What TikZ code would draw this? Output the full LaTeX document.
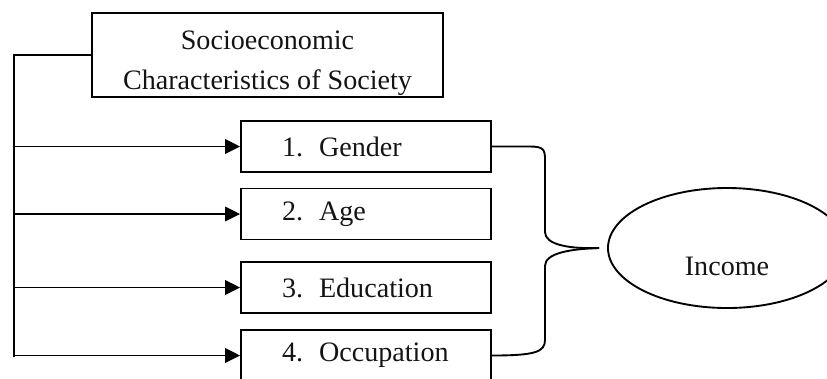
\documentclass[tikz,border=0pt]{standalone}
\usepackage{fontspec}
\setmainfont{Liberation Serif}
\usepackage{tikz}
\usetikzlibrary{
  shapes.geometric,
  arrows.meta,
  positioning,
  calc
}
\definecolor{linecolor}{RGB}{0, 0, 0}
\definecolor{labelcolor}{RGB}{20, 20, 20}
\tikzset{
blocktext/.style={
  font=\fontsize{12}{15.5}\selectfont,
  text=labelcolor
},
arrow/.style={
  -{Triangle[length=6.4pt,width=6.2pt]},
  line width=0.8pt,
  draw=linecolor
}
}
\newcommand{\itemno}[1]{\makebox[15.8pt][l]{#1}}

\begin{document}
\begin{tikzpicture}[
    x=0.015cm, y=-0.015cm,
    headbox/.style={
      rectangle, draw=linecolor, line width=0.8pt,
      minimum width=5.265cm, minimum height=1.26cm,
      align=center, inner sep=0pt, blocktext,
      font=\fontsize{12}{17}\selectfont
    },
    factorbox/.style={
      rectangle, draw=linecolor, line width=0.8pt,
      minimum width=3.75cm, minimum height=0.765cm,
      text width=2.52cm, inner xsep=0.615cm, inner ysep=0pt,
      align=left, blocktext
    },
    incomeshape/.style={
      ellipse, draw=linecolor, line width=0.8pt,
      minimum width=3.57cm, minimum height=1.8cm, inner sep=0pt
    },
    bracket/.style={
      line width=0.8pt, draw=linecolor
    }
  ]
    \useasboundingbox (0,0) rectangle (827,378);
    \clip (0,0) rectangle (827,378);

    % Heading
    \node[headbox] (socio) at (267.5,55) {\rule{0pt}{15pt}Socioeconomic\\Characteristics of Society};

    % Characteristics
    \node[factorbox] (gender) at (366,146.5) {\itemno{1.}Gender};
    \node[factorbox] (age) at (366,214) {\itemno{2.}Age};
    \node[factorbox] (educ) at (366,287.5) {\itemno{3.}Education};
    \node[factorbox] (occup) at (366,355.5) {\itemno{4.}Occupation};

    % Income
    \node[incomeshape, label={[blocktext, yshift=-0.27cm]center:Income}] (income) at (727,248) {};

    % Spine from heading
    \coordinate (spinetop) at (14,55);
    \coordinate (spinebot) at (14,357);
    \draw[bracket] (socio.west) -- (spinetop) -- (spinebot);

    % Arrows spine -> characteristics
    \foreach \n in {gender, age, educ, occup}
      \draw[arrow] (spinetop |- \n.west) -- (\n.west);

    % Brace towards income
    \coordinate (tip) at ($(income.west)+(-8,0)$);
    \draw[bracket] (gender.east) -- ++(38,0)
      .. controls ++(14,0) and (545,150) .. (545,160) -- (545,232)
      .. controls (545,245) and (570,249) .. (tip);
    \draw[bracket] (tip)
      .. controls (570,249) and (545,253) .. (545,266) -- (545,340)
      .. controls (545,352) and (535,355.5) .. (occup.east);

  \end{tikzpicture}
\end{document}
